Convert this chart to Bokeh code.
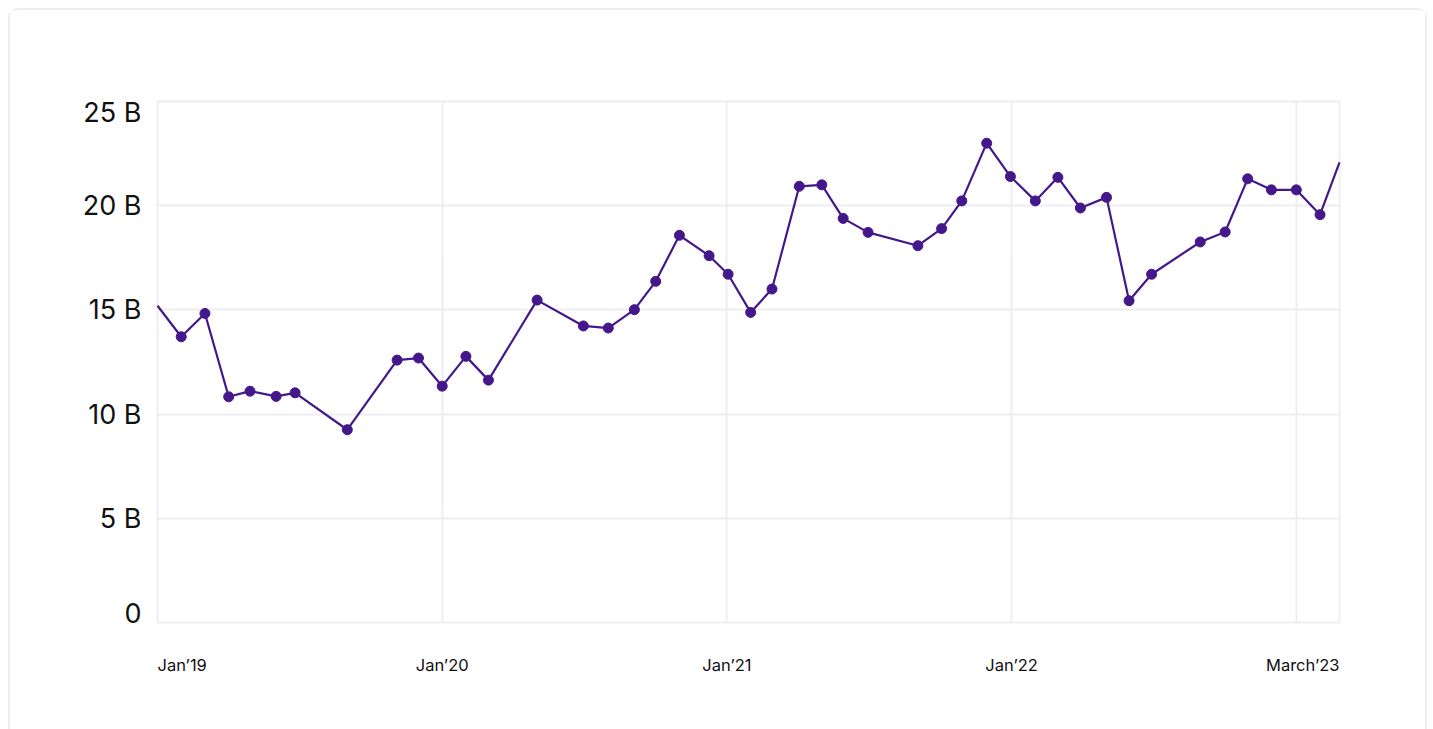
from bokeh.plotting import figure
from bokeh.models import FixedTicker, Range1d, ColumnDataSource
from bokeh.core.properties import value
from bokeh.embed import file_html
from bokeh.resources import INLINE

# ---- data (months since Jan 2019, value in billions) ----
months = [0, 1, 2, 3, 3.9, 5, 5.8, 8, 10.1, 11,
          12, 13, 13.95, 16, 17.95, 19, 20.1, 21, 22, 23.25,
          24.05, 25, 25.9, 27.05, 28, 28.9, 29.95, 32.05, 33.05, 33.9,
          34.95, 35.95, 37, 37.95, 38.9, 40, 40.95, 41.9, 43.95, 45,
          45.95, 46.95, 48, 49, 49.82]
values = [15.2, 13.71, 14.83, 10.83, 11.10, 10.85, 11.02, 9.25, 12.59, 12.69,
          11.34, 12.77, 11.63, 15.47, 14.23, 14.13, 15.01, 16.37, 18.58, 17.60,
          16.71, 14.88, 16.0, 20.93, 21.0, 19.39, 18.72, 18.08, 18.9, 20.23,
          23.0, 21.4, 20.23, 21.36, 19.89, 20.4, 15.44, 16.71, 18.26, 18.74,
          21.29, 20.76, 20.76, 19.57, 22.08]

x_tick_pos = [0, 12, 24, 36, 48]
x_tick_labels = ["Jan\u201919", "Jan\u201920", "Jan\u201921", "Jan\u201922", "March\u201923"]
y_tick_pos = [0, 5, 10, 15, 20, 25]
y_tick_labels = ["0", "5 B", "10 B", "15 B", "20 B", "25 B"]

LINE = "#44188A"
GRID = "#EEEDF3"
TEXT = "#111111"
FONT = "Inter"

x0, x1 = months[0], months[-1]
y0, y1 = y_tick_pos[0], y_tick_pos[-1]

# plot box size in px and padding of the frame around it (room for labels)
BOX_W, BOX_H = 1182, 521
PAD_L, PAD_R, PAD_T, PAD_B = 100, 60, 25, 80
xs = (x1 - x0) / BOX_W
ys = (y1 - y0) / BOX_H

p = figure(width=1427, height=740,
           frame_width=BOX_W + PAD_L + PAD_R, frame_height=BOX_H + PAD_T + PAD_B,
           x_range=Range1d(x0 - PAD_L * xs, x1 + PAD_R * xs),
           y_range=Range1d(y0 - PAD_B * ys, y1 + PAD_T * ys),
           output_backend="svg", toolbar_location=None,
           min_border_left=147 - PAD_L, min_border_top=91 - PAD_T,
           min_border_right=86 - PAD_R, min_border_bottom=118 - PAD_B,
           margin=(8, 8, 0, 8))
p.styles = {"border": "2px solid #EEEDF2", "border-radius": "10px"}
p.outline_line_color = None
p.xaxis.visible = False
p.yaxis.visible = False

# grid (plot box edges included) bounded to the plot box
p.xgrid.ticker = FixedTicker(ticks=x_tick_pos + [x1])
p.ygrid.ticker = FixedTicker(ticks=y_tick_pos)
p.xgrid.cross_bounds = (y0, y1)
p.ygrid.cross_bounds = (x0, x1)
p.grid.grid_line_color = GRID
p.grid.grid_line_width = 2

# line and markers
p.line(months, values, line_color=LINE, line_width=2.2)
p.scatter(months[1:-1], values[1:-1], size=10, fill_color=LINE, line_color=LINE)

# y labels (clamped inside box at top/bottom)
y_base = ["bottom" if v == y0 else ("top" if v == y1 else "middle") for v in y_tick_pos]
y_off = [-6 if v == y1 else 0 for v in y_tick_pos]
ysrc = ColumnDataSource(dict(x=[x0] * len(y_tick_pos), y=y_tick_pos, t=y_tick_labels,
                             b=y_base, o=y_off))
p.text(x="x", y="y", text="t", source=ysrc, text_align="right", text_baseline="b",
       x_offset=-16, y_offset="o", text_font=value(FONT), text_font_size="27px",
       text_color=TEXT)

# x labels (clamped inside box at left/right)
n = len(x_tick_pos)
x_align = ["left" if i == 0 else ("right" if i == n - 1 else "center") for i in range(n)]
x_pos = [x0 if i == 0 else (x1 if i == n - 1 else t) for i, t in enumerate(x_tick_pos)]
xsrc = ColumnDataSource(dict(x=x_pos, y=[y0] * n, t=x_tick_labels, a=x_align))
p.text(x="x", y="y", text="t", source=xsrc, text_align="a", text_baseline="middle",
       y_offset=42, text_font=value(FONT), text_font_size="16.5px", text_color=TEXT)

open("out.html", "w").write(file_html(p, INLINE))
